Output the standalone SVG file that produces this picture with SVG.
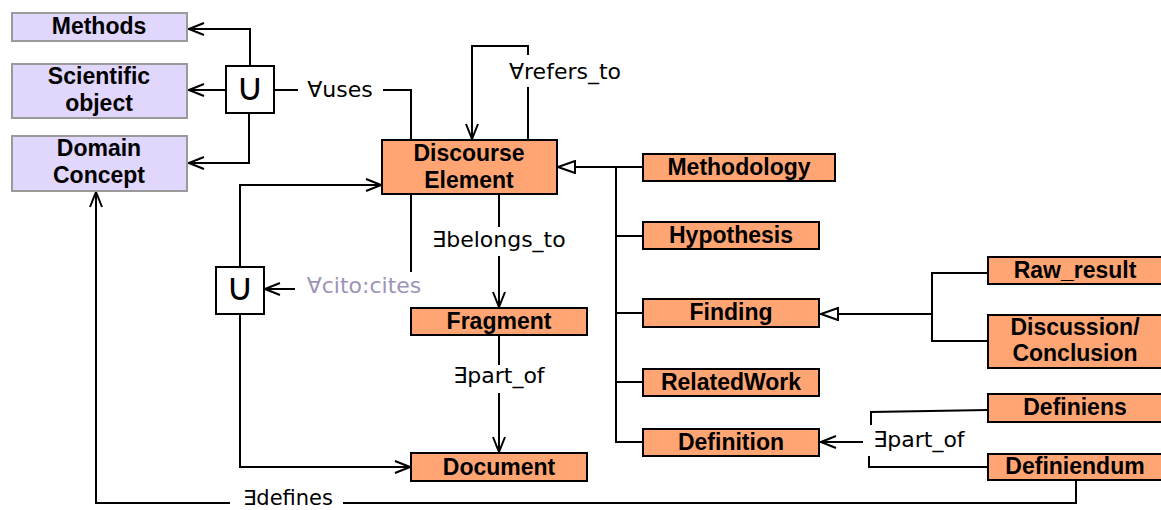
<svg xmlns="http://www.w3.org/2000/svg" width="1161" height="510" viewBox="0 0 1161 510">
<style>
.p{fill:#e1d6fc;stroke:#9a9a9a;stroke-width:2}
.o{fill:#ffa574;stroke:#000;stroke-width:2}
.u{fill:#fff;stroke:#000;stroke-width:2}
.b{font-family:"Liberation Sans",Arial,sans-serif;font-weight:bold;font-size:23px;text-anchor:middle;fill:#000}
.l{font-family:"DejaVu Sans","Liberation Sans",sans-serif;font-size:22px;text-anchor:middle;fill:#000}
.c{fill:#9d94b8}
.un{font-family:"DejaVu Sans",sans-serif;font-size:38px;text-anchor:middle;fill:#000}
#connectors path{fill:none;stroke:#000;stroke-width:2}
</style>
<defs>
<marker id="arr" viewBox="0 0 17 14" refX="16" refY="7" markerWidth="17" markerHeight="14" markerUnits="userSpaceOnUse" orient="auto">
<path d="M1,1 L16,7 L1,13" fill="none" stroke="#000" stroke-width="2"/>
</marker>
<marker id="tri" viewBox="0 0 19 14" refX="18" refY="7" markerWidth="19" markerHeight="14" markerUnits="userSpaceOnUse" orient="auto">
<path d="M1,1 L18,7 L1,13 Z" fill="#fff" stroke="#000" stroke-width="2"/>
</marker>
</defs>
<rect width="1161" height="510" fill="#fff"/>
<g id="connectors">
<path d="M250,66 V29 H189" marker-end="url(#arr)"/>
<path d="M226,90 H189" marker-end="url(#arr)"/>
<path d="M249,113 V163 H189" marker-end="url(#arr)"/>
<path d="M274,90 H298"/>
<path d="M383,90 H411 V140"/>
<path d="M528,140 V87"/>
<path d="M528,55 V46 H472 V139" marker-end="url(#arr)"/>
<path d="M411,194 V272"/>
<path d="M295,289 H265" marker-end="url(#arr)"/>
<path d="M240,267 V185 H381" marker-end="url(#arr)"/>
<path d="M240,314 V467 H410" marker-end="url(#arr)"/>
<path d="M499,194 V227"/>
<path d="M499,256 V307" marker-end="url(#arr)"/>
<path d="M499,335 V365"/>
<path d="M499,393 V452" marker-end="url(#arr)"/>
<path d="M643,167 H558" marker-end="url(#tri)"/>
<path d="M616,167 V442 H643"/>
<path d="M616,236 H643"/>
<path d="M616,313 H643"/>
<path d="M616,382 H643"/>
<path d="M932,314 H821" marker-end="url(#tri)"/>
<path d="M988,273 H932 V341 H988"/>
<path d="M988,410 L871,412 V425"/>
<path d="M869,456 V467 H988"/>
<path d="M863,442 H821" marker-end="url(#arr)"/>
<path d="M1076,480 V503 H343"/>
<path d="M230,503 H96 V192" marker-end="url(#arr)"/>
</g>
<g id="labels">
<text class="l" x="340" y="97">∀uses</text>
<text class="l" x="565" y="79">∀refers_to</text>
<text class="l c" x="364" y="293">∀cito:cites</text>
<text class="l" x="499" y="247">∃belongs_to</text>
<text class="l" x="499" y="383">∃part_of</text>
<text class="l" x="919" y="447">∃part_of</text>
<text class="l" x="288" y="505" style="font-size:21px">∃defines</text>
</g>
<g id="union1"><rect class="u" x="226" y="66" width="48" height="47"/><text class="un" x="250" y="100">∪</text></g>
<g id="union2"><rect class="u" x="216" y="267" width="48" height="47"/><text class="un" x="240" y="300">∪</text></g>
<g id="methods"><rect class="p" x="12" y="13" width="175" height="28"/><text class="b" x="99" y="34">Methods</text></g>
<g id="scientific-object"><rect class="p" x="12" y="64" width="175" height="54"/><text class="b" x="99" y="84">Scientific</text><text class="b" x="99" y="111">object</text></g>
<g id="domain-concept"><rect class="p" x="12" y="136" width="175" height="55"/><text class="b" x="99" y="156">Domain</text><text class="b" x="99" y="183">Concept</text></g>
<g id="discourse-element"><rect class="o" x="382" y="140" width="175" height="54"/><text class="b" x="469" y="161">Discourse</text><text class="b" x="469" y="188">Element</text></g>
<g id="fragment"><rect class="o" x="411" y="308" width="176" height="27"/><text class="b" x="499" y="329">Fragment</text></g>
<g id="document"><rect class="o" x="411" y="453" width="176" height="28"/><text class="b" x="499" y="475">Document</text></g>
<g id="methodology"><rect class="o" x="643" y="154" width="192" height="27"/><text class="b" x="739" y="175">Methodology</text></g>
<g id="hypothesis"><rect class="o" x="643" y="222" width="176" height="27"/><text class="b" x="731" y="243">Hypothesis</text></g>
<g id="finding"><rect class="o" x="643" y="299" width="176" height="28"/><text class="b" x="731" y="320">Finding</text></g>
<g id="relatedwork"><rect class="o" x="643" y="369" width="176" height="27"/><text class="b" x="731" y="390">RelatedWork</text></g>
<g id="definition"><rect class="o" x="643" y="429" width="176" height="27"/><text class="b" x="731" y="450">Definition</text></g>
<g id="raw-result"><rect class="o" x="988" y="257" width="176" height="27"/><text class="b" x="1075" y="278">Raw_result</text></g>
<g id="discussion-conclusion"><rect class="o" x="988" y="315" width="176" height="53"/><text class="b" x="1075" y="335">Discussion/</text><text class="b" x="1075" y="361">Conclusion</text></g>
<g id="definiens"><rect class="o" x="988" y="394" width="176" height="28"/><text class="b" x="1075" y="415">Definiens</text></g>
<g id="definiendum"><rect class="o" x="988" y="454" width="176" height="26"/><text class="b" x="1075" y="474">Definiendum</text></g>
</svg>
